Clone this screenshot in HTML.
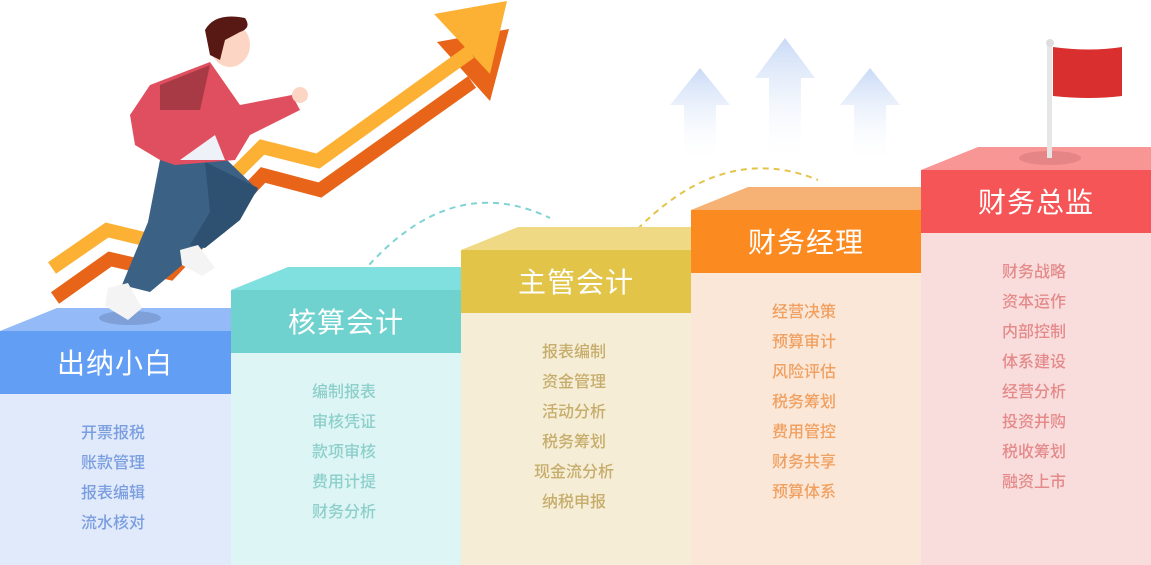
<!DOCTYPE html><html><head><meta charset="utf-8"><style>
body{margin:0;width:1151px;height:565px;overflow:hidden;background:#fff;font-family:"Liberation Sans","Noto Sans CJK SC",sans-serif;position:relative}
.h{position:absolute;color:#fff;font-size:28px;text-align:center;width:230px;letter-spacing:1px}
.l{position:absolute;width:230px;text-align:center;font-size:16px;line-height:30px;font-weight:500}
</style></head><body>
<svg width="1151" height="565" style="position:absolute;left:0;top:0">
<defs>
<linearGradient id="ga" x1="0" y1="0" x2="0" y2="1"><stop offset="0" stop-color="#c9daf6"/><stop offset="1" stop-color="#fff" stop-opacity="0"/></linearGradient>
</defs>
<polygon points="700,68 730,105 716,105 716,165 684,165 684,105 670,105" fill="url(#ga)"/>
<polygon points="785,38 815,78 801,78 801,165 769,165 769,78 755,78" fill="url(#ga)"/>
<polygon points="870,68 900,105 886,105 886,165 854,165 854,105 840,105" fill="url(#ga)"/>
<path d="M362,273 Q450,170 550,218" fill="none" stroke="#7fd3d3" stroke-width="2" stroke-dasharray="6,5"/>
<path d="M630,237 Q720,140 818,180" fill="none" stroke="#e3c34a" stroke-width="2" stroke-dasharray="6,5"/>
<polygon points="0,331 57,308 231,308 231,331" fill="#94bbf7"/>
<rect x="0" y="331" width="231" height="63" fill="#639ef5"/>
<rect x="0" y="394" width="231" height="171" fill="#e1eafa"/>
<polygon points="231,290 288,267 461,267 461,290" fill="#80e0df"/>
<rect x="231" y="290" width="230" height="63" fill="#6fd2cf"/>
<rect x="231" y="353" width="230" height="212" fill="#ddf5f5"/>
<polygon points="461,250 518,227 691,227 691,250" fill="#efd985"/>
<rect x="461" y="250" width="230" height="63" fill="#e2c448"/>
<rect x="461" y="313" width="230" height="252" fill="#f5edd6"/>
<polygon points="691,210 748,187 921,187 921,210" fill="#f6b274"/>
<rect x="691" y="210" width="230" height="63" fill="#fb8a20"/>
<rect x="691" y="273" width="230" height="292" fill="#fbe7d7"/>
<polygon points="921,170 978,147 1151,147 1151,170" fill="#f89595"/>
<rect x="921" y="170" width="230" height="63" fill="#f65557"/>
<rect x="921" y="233" width="230" height="332" fill="#f9dddd"/>
<ellipse cx="1050" cy="158" rx="31" ry="7" fill="#e58585"/>
<rect x="1047" y="42" width="5" height="116" fill="#e6e6e6"/>
<circle cx="1050" cy="43" r="4" fill="#ddd"/>
<path d="M1053,47 Q1090,52 1122,47 L1122,96 Q1090,100 1053,96Z" fill="#d9302f"/>
<polyline points="55,298 110,259 170,273 263,175 320,190 472,82" fill="none" stroke="#e86418" stroke-width="14" stroke-linejoin="miter"/>
<polygon points="437,42 509,29 490,101" fill="#e86418"/>
<polyline points="52,268 107,230 165,244 262,147 318,161 470,52" fill="none" stroke="#fdb134" stroke-width="14" stroke-linejoin="miter"/>
<polygon points="434,14 507,1 490,74" fill="#fdb134"/>
<ellipse cx="130" cy="318" rx="31" ry="7" fill="#7f9fd8"/>
<path d="M160,160 L225,158 L258,190 L225,232 L200,250 L150,292 L122,285 L148,222Z" fill="#3b6285"/>
<path d="M205,162 L258,188 L240,220 L205,248 L190,245 L210,212Z" fill="#2e5172"/>
<path d="M108,288 L128,283 L142,308 L128,320 L105,306Z" fill="#f4f4f4"/>
<path d="M180,250 L198,245 L215,268 L202,276 L182,265Z" fill="#f4f4f4"/>
<path d="M150,85 L210,62 L240,105 L292,95 L300,110 L250,135 L235,160 L175,165 L160,160 L135,145 L130,115Z" fill="#e04f5f"/>
<path d="M160,85 L210,65 L200,110 L160,110Z" fill="#a83a45"/>
<path d="M180,160 L215,135 L225,160 Z" fill="#eef2f8"/>
<circle cx="300" cy="95" r="8" fill="#fcd5c4"/>
<ellipse cx="230" cy="45" rx="20" ry="22" fill="#fcd5c4"/>
<path d="M205,30 Q215,12 245,18 Q252,28 240,32 L225,40 L220,60 L210,55Z" fill="#581915"/>
</svg>
<div class="h" style="left:0;top:342px">出纳小白</div>
<div class="h" style="left:231px;top:301px">核算会计</div>
<div class="h" style="left:461px;top:261px">主管会计</div>
<div class="h" style="left:691px;top:221px">财务经理</div>
<div class="h" style="left:921px;top:181px">财务总监</div>
<div class="l" style="left:-2px;top:419px;color:#7a9ee0">开票报税<br>账款管理<br>报表编辑<br>流水核对</div>
<div class="l" style="left:229px;top:378px;color:#8dcfca">编制报表<br>审核凭证<br>款项审核<br>费用计提<br>财务分析</div>
<div class="l" style="left:459px;top:338px;color:#c6ad6b">报表编制<br>资金管理<br>活动分析<br>税务筹划<br>现金流分析<br>纳税申报</div>
<div class="l" style="left:689px;top:298px;color:#f0a060">经营决策<br>预算审计<br>风险评估<br>税务筹划<br>费用管控<br>财务共享<br>预算体系</div>
<div class="l" style="left:919px;top:258px;color:#e48a8a">财务战略<br>资本运作<br>内部控制<br>体系建设<br>经营分析<br>投资并购<br>税收筹划<br>融资上市</div>
</body></html>
